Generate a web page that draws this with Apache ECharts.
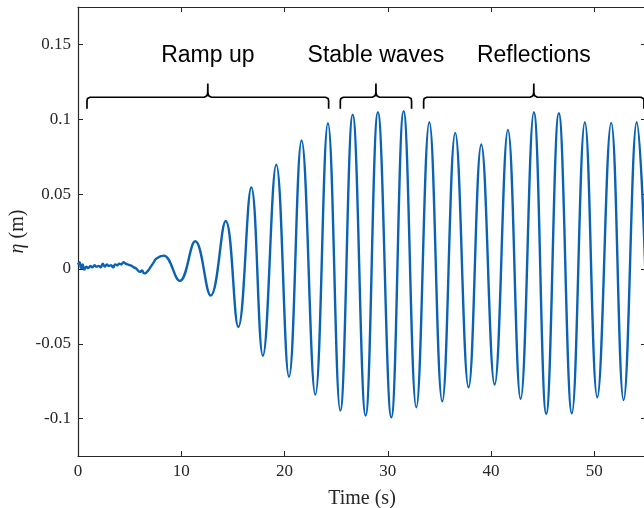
<!DOCTYPE html>
<html>
<head>
<meta charset="utf-8">
<script src="https://cdn.jsdelivr.net/npm/echarts@6/dist/echarts.min.js"></script>
<style>
  html, body { margin: 0; padding: 0; background: #fff; }
  #chart { width: 644px; height: 508px; }
</style>
</head>
<body>
<div id="chart"></div>
<script>
// wave gauge record: time (s) and surface elevation eta (m)
// noisy start, then crest / trough extremes
var time = [0, 0.15, 0.3, 0.45, 0.6, 0.8, 1.0, 1.2, 1.4, 1.6, 1.8, 2.0, 2.2, 2.4, 2.6, 2.8, 3.0, 3.2, 3.4, 3.6,
  3.8, 4.0, 4.2, 4.4, 4.6, 4.8, 5.0, 5.2, 5.4, 5.6, 5.8, 6.0, 6.2, 6.4, 6.6, 6.8, 7.0, 7.3, 7.6,
  8.3, 9.85, 11.35, 12.85, 14.3, 15.52, 16.78, 17.9, 19.2, 20.43, 21.65, 22.98, 24.2, 25.4, 26.6, 27.85,
  29.04, 30.34, 31.53, 32.76, 34.02, 35.27, 36.53, 37.82, 39.05, 40.34, 41.63, 42.86, 44.14, 45.34,
  46.56, 47.82, 49.08, 50.28, 51.63, 52.83, 54.1, 55.3];
var eta = [0.003, 0.0045, 0.0005, 0.003, -0.0005, 0.0015, 0.0005, 0.002, 0.001, 0.0025, 0.0015, 0.002, 0.001, 0.0035, 0.0015, 0.003, 0.002, 0.0025, 0.001, 0.003,
  0.0025, 0.0035, 0.003, 0.0045, 0.0035, 0.003, 0.0025, 0.002, 0.001, 0.0005, -0.001, -0.002, -0.001, -0.003, -0.0025, -0.001, 0.001, 0.004, 0.007,
  0.0089, -0.008, 0.0185, -0.0178, 0.032, -0.0388, 0.0545, -0.058, 0.0697, -0.072, 0.0858, -0.084, 0.0973, -0.0947, 0.1031, -0.098,
  0.1047, -0.0992, 0.1054, -0.0925, 0.098, -0.0885, 0.0909, -0.0791, 0.0831, -0.0773, 0.0929, -0.0869, 0.1047, -0.0969,
  0.104, -0.0965, 0.098, -0.0858, 0.0976, -0.0876, 0.098, -0.085];

// annotated phases (start / end time of each brace)
var phaseNames = ['Ramp up', 'Stable waves', 'Reflections'];
var phaseSpans = [[0.87, 24.27], [25.4, 32.3], [33.47, 54.8]];

var xTicks = [0, 10, 20, 30, 40, 50];

var axisColor = '#262626';
var serif = 'Liberation Serif';

function bracePoints(a, b) {
  var yLine = 0.1147, yEnd = 0.107, yTip = 0.1239;
  var m = (a + b) / 2;
  return [
    [a, yEnd], [a, yLine - 0.0025], [a + 0.05, yLine - 0.0008], [a + 0.3, yLine],
    [m - 0.35, yLine], [m - 0.08, yLine + 0.001], [m - 0.01, yLine + 0.003], [m, yTip],
    [m + 0.01, yLine + 0.003], [m + 0.08, yLine + 0.001], [m + 0.35, yLine],
    [b - 0.3, yLine], [b - 0.05, yLine - 0.0008], [b, yLine - 0.0025], [b, yEnd]
  ];
}

var chart = echarts.init(document.getElementById('chart'));

var series = [{
  name: 'eta',
  type: 'line',
  data: time.map(function (t, i) { return [t, eta[i]]; }),
  smooth: 0.42,
  showSymbol: false,
  symbol: 'none',
  lineStyle: { color: '#0b62b2', width: 2.4 },
  z: 3
}];

phaseSpans.forEach(function (s) {
  series.push({
    type: 'line',
    data: bracePoints(s[0], s[1]),
    symbol: 'none',
    lineStyle: { color: '#000', width: 1.7 },
    silent: true,
    z: 4
  });
});

var option = {
  animation: false,
  backgroundColor: '#fff',
  grid: { left: 78, right: -2, top: 7, bottom: 52, outerBoundsMode: 'none', containLabel: false },
  xAxis: [{
    type: 'value',
    min: 0,
    max: 55,
    interval: 10,
    position: 'bottom',
    axisLine: { show: true, onZero: false, lineStyle: { color: axisColor, width: 1.2 } },
    axisTick: { show: true, inside: true, length: 5, lineStyle: { color: axisColor } },
    axisLabel: {
      formatter: function (v) { return xTicks.indexOf(v) >= 0 ? String(v) : ''; },
      fontFamily: serif, fontSize: 17, color: axisColor, margin: 7
    },
    splitLine: { show: false },
    name: 'Time (s)',
    nameLocation: 'middle',
    nameGap: 33,
    nameMoveOverlap: false,
    nameTextStyle: { fontFamily: serif, fontSize: 20, color: axisColor }
  }, {
    type: 'value',
    min: 0,
    max: 55,
    interval: 10,
    position: 'top',
    axisLine: { show: true, onZero: false, lineStyle: { color: axisColor, width: 1.2 } },
    axisTick: { show: true, inside: true, length: 5, lineStyle: { color: axisColor } },
    axisLabel: { show: false },
    splitLine: { show: false }
  }],
  yAxis: [{
    type: 'value',
    min: -0.125,
    max: 0.175,
    splitNumber: 5,
    position: 'left',
    axisLine: { show: true, onZero: false, lineStyle: { color: axisColor, width: 1.2 } },
    axisTick: { show: true, inside: true, length: 5, lineStyle: { color: axisColor } },
    axisLabel: {
      showMinLabel: false,
      showMaxLabel: false,
      fontFamily: serif, fontSize: 17, color: axisColor, margin: 7
    },
    splitLine: { show: false },
    name: '{i|η} (m)',
    nameLocation: 'middle',
    nameGap: 50,
    nameMoveOverlap: false,
    nameTextStyle: {
      fontFamily: serif, fontSize: 20, color: axisColor,
      rich: { i: { fontFamily: serif, fontSize: 20, fontStyle: 'italic', color: axisColor } }
    }
  }, {
    type: 'value',
    min: -0.125,
    max: 0.175,
    splitNumber: 5,
    position: 'right',
    axisLine: { show: true, onZero: false, lineStyle: { color: axisColor, width: 1.2 } },
    axisTick: { show: true, inside: true, length: 5, lineStyle: { color: axisColor } },
    axisLabel: { show: false },
    splitLine: { show: false }
  }],
  series: series
};

chart.setOption(option);

// phase titles placed above each brace through the axis scales
chart.setOption({
  graphic: phaseSpans.map(function (s, i) {
    var p = chart.convertToPixel({ xAxisIndex: 0, yAxisIndex: 0 }, [(s[0] + s[1]) / 2, 0.1426]);
    return {
      type: 'text',
      x: p[0],
      y: p[1],
      silent: true,
      style: {
        text: phaseNames[i],
        fontFamily: 'Liberation Sans',
        fontSize: 23,
        fill: '#000',
        align: 'center',
        verticalAlign: 'middle'
      }
    };
  })
});
</script>
</body>
</html>
